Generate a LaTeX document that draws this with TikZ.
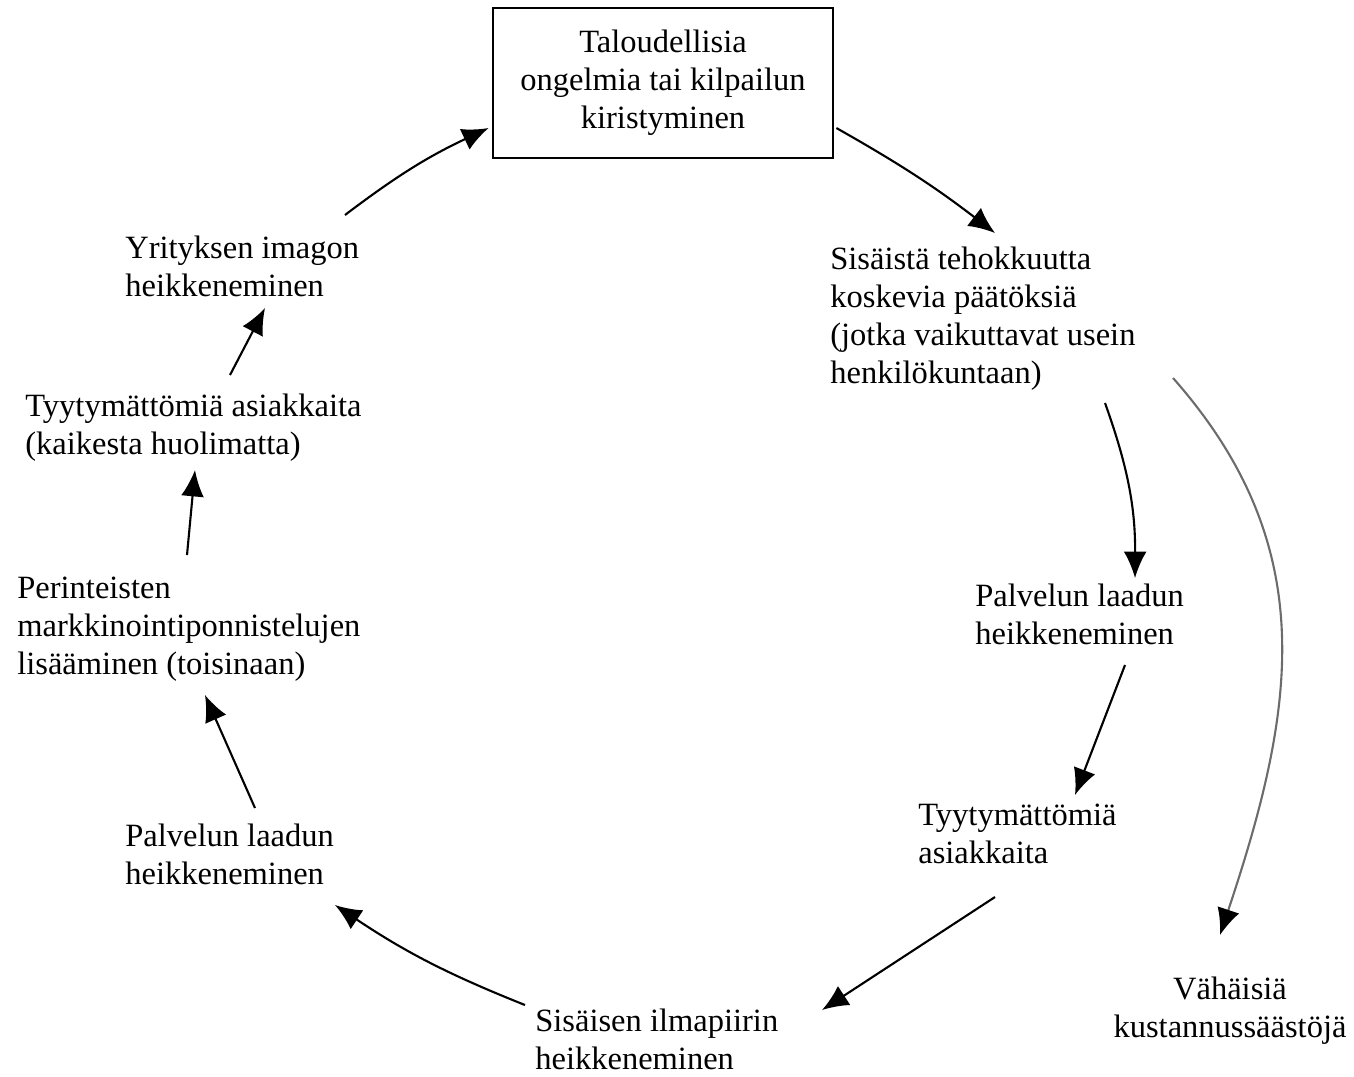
\documentclass[tikz,border=0pt]{standalone}
\usepackage{fontspec}
\setmainfont{Liberation Serif}
\usetikzlibrary{arrows.meta}

\begin{document}
\begin{tikzpicture}[x=0.02cm,y=-0.02cm,
    lbl/.style={anchor=north west,inner sep=0pt,align=left,font=\fontsize{18.5}{21.6}\selectfont},
    arr/.style={line width=1.2pt,-{Latex[length=15pt,width=13pt,color=black]}}]
                \useasboundingbox (0,0) rectangle (1354,1076);

                \node[draw,line width=1.6pt,minimum width=6.8cm,minimum height=3cm,align=center,
                      font=\fontsize{18.5}{21.6}\selectfont] (talous) at (663,83)
                      {Taloudellisia\\ongelmia tai kilpailun\\kiristyminen};
                \node[lbl] (tehokkuus) at (830,247) {Sisäistä tehokkuutta\\koskevia päätöksiä\\(jotka vaikuttavat usein\\henkilökuntaan)};
                \node[lbl] (laatu1) at (975,584) {Palvelun laadun\\heikkeneminen};
                \node[lbl] (tyyt1) at (918,804) {Tyytymättömiä\\asiakkaita};
                \node[lbl,anchor=north,align=center] (saasto) at (1230,977) {Vähäisiä\\kustannussäästöjä};
                \node[lbl] (ilmapiiri) at (535,1009) {Sisäisen ilmapiirin\\heikkeneminen};
                \node[lbl] (laatu2) at (125,824) {Palvelun laadun\\heikkeneminen};
                \node[lbl] (markk) at (17,577) {Perinteisten\\markkinointiponnistelujen\\lisääminen (toisinaan)};
                \node[lbl] (tyyt2) at (25,394) {Tyytymättömiä asiakkaita\\(kaikesta huolimatta)};
                \node[lbl] (imago) at (125,236) {Yrityksen imagon\\heikkeneminen};

                % kierre
                \draw[arr] ([shift={(220,-21)}]imago.north west) to[bend left=6] ([shift={(-3,45)}]talous.west);
                \draw[arr] ([shift={(2,45)}]talous.east) to[bend left=4] ([shift={(165,-14)}]tehokkuus.north west);
                \draw[arr] ([shift={(275,156)}]tehokkuus.north west) to[bend left=10] ([shift={(160,-6)}]laatu1.north west);
                \draw[arr] ([shift={(150,81)}]laatu1.north west) -- ([shift={(157,-9)}]tyyt1.north west);
                \draw[arr] ([shift={(77,93)}]tyyt1.north west) -- ([shift={(287,1)}]ilmapiiri.north west);
                \draw[arr] ([shift={(-10,-4)}]ilmapiiri.north west) to[bend left=6] ([shift={(210,81)}]laatu2.north west);
                \draw[arr] ([shift={(130,-16)}]laatu2.north west) -- ([shift={(188,118)}]markk.north west);
                \draw[arr] ([shift={(170,-22)}]markk.north west) -- ([shift={(170,76)}]tyyt2.north west);
                \draw[arr] ([shift={(205,-19)}]tyyt2.north west) -- ([shift={(140,72)}]imago.north west);

                % sivuhaara
                \draw[arr,gray!85!black] ([shift={(343,131)}]tehokkuus.north west) .. controls +(150,170) and +(75,-225) .. ([shift={(-10,-42)}]saasto.north);
            \end{tikzpicture}
\end{document}
